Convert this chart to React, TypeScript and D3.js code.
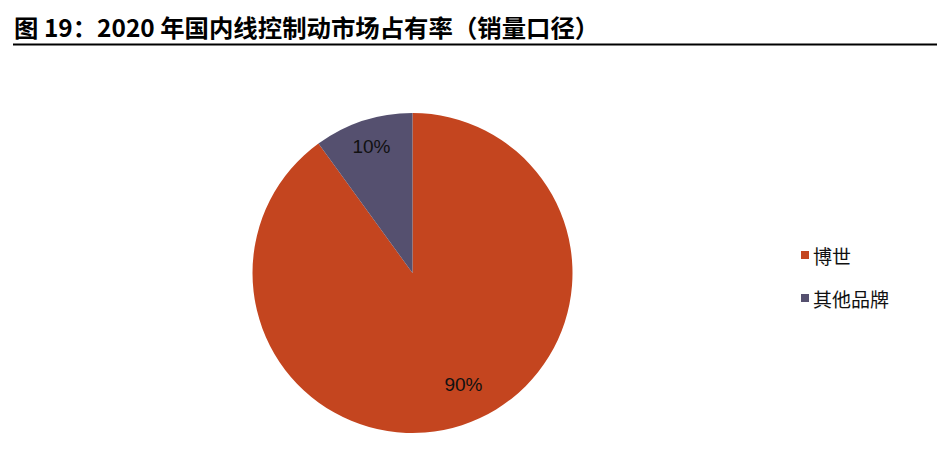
import React from "react";
import * as d3 from "d3";

const categories = ["博世", "其他品牌"];
const shares = [90, 10];
const colors = ["#C4451F", "#55506F"];
const title = "图 19：2020 年国内线控制动市场占有率（销量口径）";

const W = 943;
const H = 457;
const cx = 412.5;
const cy = 273;
const R = 160;
// label placement: [angle (deg, clockwise from top), radius]
const labelPlace: [number, number][] = [
  [155.5, 123],
  [342, 133],
];

export default function App() {
  const pie = d3
    .pie<number>()
    .sort(null)
    .value((d) => d)
    .startAngle(0)
    .endAngle(Math.PI * 2);
  const arcs = pie(shares);
  const arc = d3.arc<d3.PieArcDatum<number>>().innerRadius(0).outerRadius(R);
  const cjk = "'Noto Sans CJK SC', 'Noto Sans', sans-serif";
  return (
    <svg
      width={W}
      height={H}
      style={{ position: "absolute", left: 0, top: 0, background: "#fff" }}
    >
      <text
        x={14}
        y={36.5}
        fontFamily={cjk}
        fontWeight={700}
        fontSize={24.4}
        fill="#000"
      >
        {title}
      </text>
      <line x1={13} x2={937} y1={44.5} y2={44.5} stroke="#000" strokeWidth={2} />
      <g transform={`translate(${cx},${cy})`}>
        {arcs.map((a, i) => (
          <path key={i} d={arc(a) || ""} fill={colors[i]} />
        ))}
        {arcs.map((a, i) => {
          const [deg, r] = labelPlace[i];
          const t = (deg * Math.PI) / 180;
          return (
            <text
              key={"l" + i}
              x={Math.sin(t) * r}
              y={-Math.cos(t) * r}
              textAnchor="middle"
              dominantBaseline="central"
              fontFamily="'Liberation Sans', Arial, sans-serif"
              fontSize={19}
              fill="#111"
            >
              {`${a.data}%`}
            </text>
          );
        })}
      </g>
      {categories.map((c, i) => (
        <g key={c} transform={`translate(801,${255 + i * 43})`}>
          <rect x={0} y={-4} width={8} height={8} fill={colors[i]} />
          <text
            x={12}
            y={0}
            dominantBaseline="central"
            fontFamily={cjk}
            fontSize={19}
            fill="#111"
          >
            {c}
          </text>
        </g>
      ))}
    </svg>
  );
}
